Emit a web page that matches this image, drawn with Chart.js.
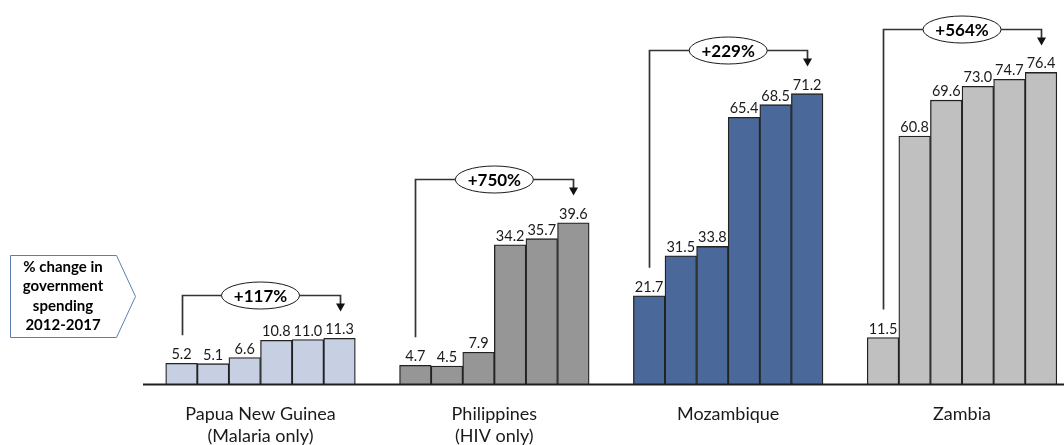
<!DOCTYPE html>
<html>
<head>
<meta charset="utf-8">
<script src="https://cdn.jsdelivr.net/npm/chart.js@4/dist/chart.umd.min.js"></script>
<style>
  html, body { margin: 0; padding: 0; background: #ffffff; }
  #wrap { width: 1064px; height: 445px; position: relative; }
</style>
</head>
<body>
<div id="wrap"><canvas id="chart" width="1064" height="445"></canvas></div>
<script>
// Government spending by country, 2012-2017
const countries = ['Papua New Guinea', 'Philippines', 'Mozambique', 'Zambia'];
const subtitles = ['(Malaria only)', '(HIV only)', '', ''];
const years = ['2012', '2013', '2014', '2015', '2016', '2017'];
const papuaNewGuinea = [5.2, 5.1, 6.6, 10.8, 11.0, 11.3];
const philippines = [4.7, 4.5, 7.9, 34.2, 35.7, 39.6];
const mozambique = [21.7, 31.5, 33.8, 65.4, 68.5, 71.2];
const zambia = [11.5, 60.8, 69.6, 73.0, 74.7, 76.4];
const changeLabels = ['+117%', '+750%', '+229%', '+564%'];
const calloutLines = ['% change in', 'government', 'spending', '2012-2017'];

const groups = [papuaNewGuinea, philippines, mozambique, zambia];
const groupColors = ['#c6d0e2', '#969696', '#4a6899', '#c0c0c0'];

// each bar is one unit wide; groups are separated by a wider gap
const GROUP_STRIDE = 7.4;
const xOf = (g, i) => g * GROUP_STRIDE + i;

const points = [];
const colors = [];
groups.forEach((vals, g) => {
  vals.forEach((v, i) => {
    points.push({ x: xOf(g, i), y: v });
    colors.push(groupColors[g]);
  });
});

const FONT = 'Lato, "Open Sans", sans-serif';

const annotations = {
  id: 'annotations',
  afterDatasetsDraw(chart) {
    const ctx = chart.ctx;
    const xs = chart.scales.x;
    const ys = chart.scales.y;
    const base = ys.getPixelForValue(0);
    ctx.save();

    // baseline
    ctx.strokeStyle = '#1e1e1e';
    ctx.lineWidth = 2;
    ctx.beginPath();
    ctx.moveTo(143, base);
    ctx.lineTo(chart.width, base);
    ctx.stroke();

    // value labels
    ctx.fillStyle = '#1a1a1a';
    ctx.font = '14.5px ' + FONT;
    ctx.textAlign = 'center';
    ctx.textBaseline = 'alphabetic';
    groups.forEach((vals, g) => {
      vals.forEach((v, i) => {
        ctx.fillText(v.toFixed(1), xs.getPixelForValue(xOf(g, i)), ys.getPixelForValue(v) - 4);
      });
    });

    // change brackets with arrows and oval labels
    groups.forEach((vals, g) => {
      const x0 = Math.round(xs.getPixelForValue(xOf(g, 0))) + 0.5;
      const x1 = Math.round(xs.getPixelForValue(xOf(g, vals.length - 1))) + 0.5;
      const yBottom = ys.getPixelForValue(vals[0]) - 28;
      const yTop = Math.round(ys.getPixelForValue(Math.max(...vals)) - 43.5) + 0.5;
      const tip = yTop + 16;
      ctx.strokeStyle = '#333333';
      ctx.lineWidth = 1.7;
      ctx.beginPath();
      ctx.moveTo(x0, yBottom);
      ctx.lineTo(x0, yTop);
      ctx.lineTo(x1, yTop);
      ctx.lineTo(x1, tip - 7);
      ctx.stroke();
      ctx.fillStyle = '#111111';
      ctx.beginPath();
      ctx.moveTo(x1 - 4.5, tip - 8);
      ctx.lineTo(x1 + 4.5, tip - 8);
      ctx.lineTo(x1, tip);
      ctx.closePath();
      ctx.fill();

      const cx = (xs.getPixelForValue(xOf(g, 0)) + xs.getPixelForValue(xOf(g, vals.length - 1))) / 2;
      ctx.beginPath();
      ctx.ellipse(cx, yTop, 39, 13.5, 0, 0, Math.PI * 2);
      ctx.fillStyle = '#ffffff';
      ctx.fill();
      ctx.strokeStyle = '#1a1a1a';
      ctx.lineWidth = 1;
      ctx.stroke();
      ctx.fillStyle = '#000000';
      ctx.font = 'bold 17px ' + FONT;
      ctx.textBaseline = 'middle';
      ctx.fillText(changeLabels[g], cx, yTop + 1);

      // category labels
      ctx.font = '18px ' + FONT;
      ctx.fillStyle = '#1a1a1a';
      ctx.fillText(countries[g], cx, 414);
      if (subtitles[g]) ctx.fillText(subtitles[g], cx, 436);
      ctx.textBaseline = 'alphabetic';
    });

    // callout box
    ctx.strokeStyle = '#5b7fb0';
    ctx.lineWidth = 1;
    ctx.fillStyle = '#ffffff';
    ctx.beginPath();
    ctx.moveTo(10.5, 255.5);
    ctx.lineTo(116.5, 255.5);
    ctx.lineTo(135.5, 296.5);
    ctx.lineTo(116.5, 337.5);
    ctx.lineTo(10.5, 337.5);
    ctx.closePath();
    ctx.fill();
    ctx.stroke();
    ctx.fillStyle = '#000000';
    ctx.font = 'bold 15px ' + FONT;
    ctx.textBaseline = 'middle';
    calloutLines.forEach((t, k) => ctx.fillText(t, 63, 267 + k * 19.5));

    ctx.restore();
  }
};

new Chart(document.getElementById('chart'), {
  type: 'bar',
  data: {
    datasets: [{
      data: points,
      backgroundColor: colors,
      borderColor: '#222222',
      borderWidth: 1.3,
      barPercentage: 1,
      categoryPercentage: 1
    }]
  },
  options: {
    responsive: false,
    devicePixelRatio: 1,
    animation: false,
    layout: { padding: { left: 0, right: 0, top: 0, bottom: 60.5 } },
    plugins: { legend: { display: false }, tooltip: { enabled: false } },
    scales: {
      x: {
        type: 'linear',
        display: false,
        min: -5.744,
        max: 27.927,
        afterBuildTicks: (s) => { s.ticks = []; }
      },
      y: {
        display: false,
        min: 0,
        max: 94.13
      }
    }
  },
  plugins: [annotations]
});
</script>
</body>
</html>
